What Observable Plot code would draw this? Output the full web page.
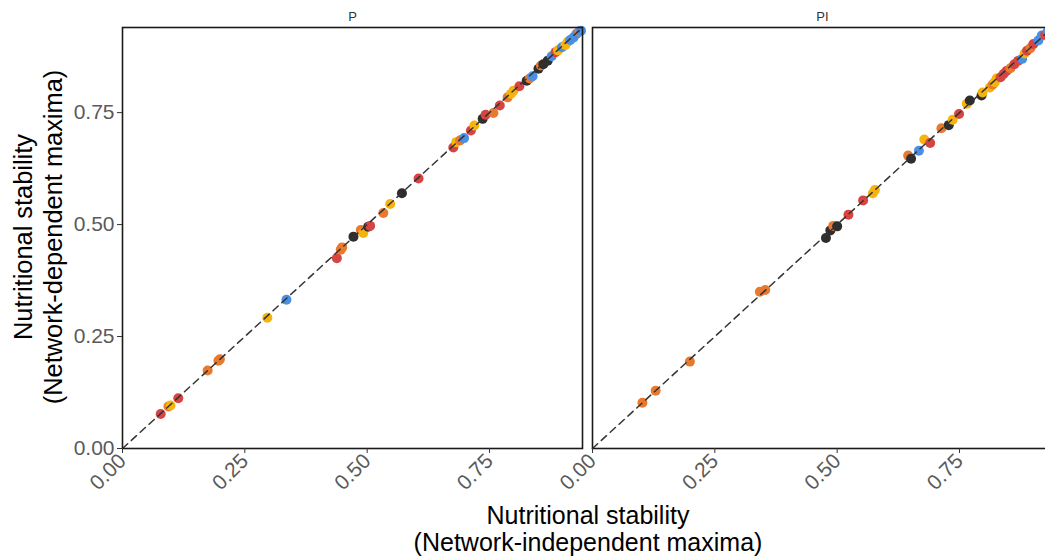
<!DOCTYPE html>
<html>
<head>
<meta charset="utf-8">
<script src="https://cdn.jsdelivr.net/npm/d3@7"></script>
<script src="https://cdn.jsdelivr.net/npm/@observablehq/plot@0.6"></script>
<style>
  html, body { margin: 0; padding: 0; background: #fff; overflow: hidden; }
  #wrap { position: relative; width: 1045px; height: 558px; overflow: hidden; font-family: "Liberation Sans", Arial, Helvetica, sans-serif; }
  #chart { position: absolute; left: 0; top: 0; width: 1062px; }
  #chart svg { max-width: none !important; }
  .ttl { position: absolute; color: #000; font-size: 25px; line-height: 27px; text-align: center; white-space: nowrap; }
  #xtitle { left: 588px; top: 529px; transform: translate(-50%, -50%); }
  #ytitle { left: 38px; top: 237px; transform: translate(-50%, -50%) rotate(-90deg); line-height: 30px; font-size: 25.4px; }
</style>
</head>
<body>
<div id="wrap">
  <div id="chart"></div>
  <div class="ttl" id="xtitle">Nutritional stability<br>(Network-independent maxima)</div>
  <div class="ttl" id="ytitle">Nutritional stability<br>(Network-dependent maxima)</div>
</div>
<script>
// ---- data ----
const facets = ["P", "PI"];
const groups = ["A", "B", "C", "D", "E"]; // black, blue, red, orange, yellow
const tickValues = [0, 0.25, 0.5, 0.75];
const axisMax = 0.94;
const refLine = [0, axisMax];

// Panel P
const pX = [0.078,0.094,0.098,0.114,0.174,0.196,0.199,0.296,0.335,0.438,0.446,0.449,0.472,0.487,0.492,0.502,0.506,0.533,0.547,0.571,0.605,0.676,0.682,0.690,0.698,0.712,0.719,0.736,0.742,0.758,0.771,0.787,0.794,0.799,0.811,0.826,0.832,0.838,0.850,0.855,0.860,0.869,0.877,0.885,0.890,0.898,0.905,0.910,0.915,0.922,0.928,0.933,0.937];
const pY = [0.077,0.094,0.096,0.112,0.174,0.196,0.199,0.292,0.332,0.425,0.444,0.449,0.473,0.488,0.481,0.495,0.497,0.526,0.546,0.570,0.603,0.672,0.684,0.688,0.693,0.710,0.721,0.736,0.745,0.749,0.766,0.784,0.792,0.799,0.809,0.821,0.826,0.831,0.848,0.855,0.858,0.866,0.876,0.885,0.889,0.896,0.901,0.908,0.912,0.918,0.926,0.931,0.933];
const pG = ["C","D","E","C","D","D","D","E","B","C","D","D","A","D","E","A","C","D","E","A","C","C","E","D","B","C","E","A","C","D","C","D","E","E","C","A","D","B","A","D","A","A","B","C","E","B","E","E","B","B","B","D","B"];

// Panel PI
const piX = [0.102,0.129,0.199,0.342,0.353,0.477,0.486,0.492,0.500,0.523,0.553,0.573,0.577,0.645,0.651,0.667,0.678,0.690,0.713,0.728,0.736,0.749,0.765,0.771,0.795,0.797,0.812,0.818,0.822,0.826,0.834,0.840,0.846,0.854,0.862,0.870,0.878,0.883,0.888,0.895,0.901,0.911,0.918,0.925,0.930,0.936];
const piY = [0.102,0.129,0.194,0.350,0.354,0.470,0.487,0.497,0.496,0.522,0.554,0.570,0.577,0.654,0.647,0.665,0.690,0.682,0.715,0.722,0.734,0.747,0.770,0.777,0.788,0.795,0.806,0.813,0.818,0.826,0.829,0.836,0.843,0.849,0.858,0.866,0.870,0.882,0.888,0.894,0.903,0.911,0.922,0.924,0.931,0.934];
const piG = ["D","D","D","D","D","A","A","D","A","C","C","E","E","D","A","B","E","C","D","A","E","C","E","A","A","E","E","D","E","E","C","C","C","D","C","C","B","E","C","D","C","B","B","C","B","B"];

const palette = ["#2e2e2e", "#4a8fe3", "#d64541", "#e8792f", "#f6b30e"];

const rows = [];
pX.forEach((x, i) => rows.push({facet: "P", x, y: pY[i], group: pG[i]}));
piX.forEach((x, i) => rows.push({facet: "PI", x, y: piY[i], group: piG[i]}));

const fmt = d3.format(".2f");

const chart = Plot.plot({
  width: 1062,
  height: 558,
  marginLeft: 121,
  marginRight: 9,
  marginTop: 27,
  marginBottom: 110,
  style: {fontFamily: "'Liberation Sans', Arial, Helvetica, sans-serif", background: "white", overflow: "visible", maxWidth: "none"},
  x: {domain: [0, axisMax], label: null},
  y: {domain: [0, axisMax], label: null},
  fx: {domain: facets, paddingInner: 0.0212, paddingOuter: 0, label: null},
  color: {domain: groups, range: palette},
  marks: [
    Plot.dot(rows, {x: "x", y: "y", fx: "facet", fill: "group", r: 5}),
    Plot.line(refLine, {x: d => d, y: d => d, stroke: "#333", strokeWidth: 1.5, strokeDasharray: "7,5"}),
    Plot.frame({stroke: "#1a1a1a", strokeWidth: 1.6}),
    Plot.axisX({ticks: tickValues, tickFormat: fmt, tickRotate: -45, fontSize: 21, tickSize: 5, tickPadding: 4, stroke: "#333", fill: "#5a5a5a", label: null}),
    Plot.axisY({ticks: tickValues, tickFormat: fmt, fontSize: 21, tickSize: 5, tickPadding: 3, stroke: "#333", fill: "#5a5a5a", label: null}),
    Plot.axisFx({anchor: "top", tickSize: 0, tickPadding: 7, fontSize: 13, fill: "#333", label: null})
  ]
});
chart.style.maxWidth = "none";
document.getElementById("chart").appendChild(chart);
</script>
</body>
</html>
